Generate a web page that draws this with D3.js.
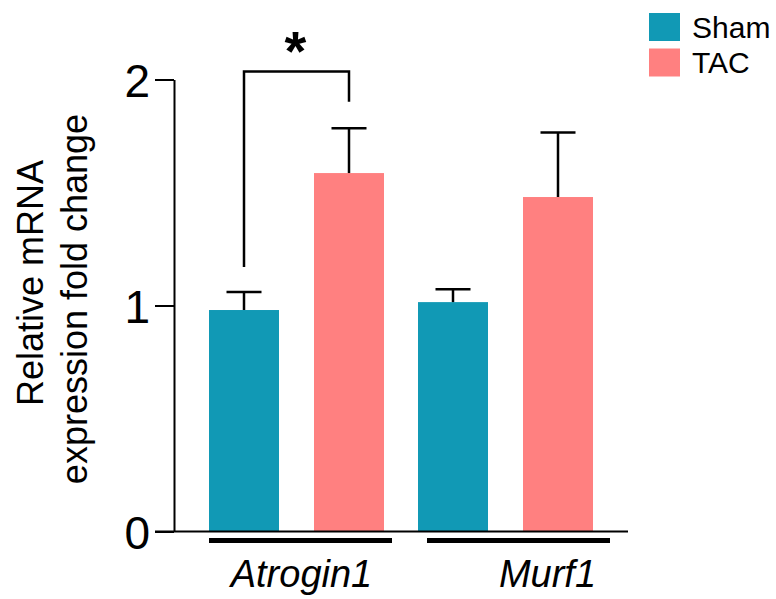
<!DOCTYPE html>
<html><head><meta charset="utf-8">
<script src="https://cdn.jsdelivr.net/npm/d3@7"></script>
<style>body{margin:0;background:#fff}svg{display:block}text{font-family:Arial,"Liberation Sans",sans-serif}</style>
</head><body>
<svg id="c" width="776" height="599"></svg>
<script>
const categories = ["Atrogin1", "Murf1"];
const seriesNames = ["Sham", "TAC"];
const shamMean = [0.98, 1.015];
const shamErr = [0.08, 0.057];
const tacMean = [1.586, 1.48];
const tacErr = [0.198, 0.286];
const yTicks = [0, 1, 2];
const colors = ["#1199b5", "#ff8080"];
const yTitle = ["Relative mRNA", "expression fold change"];

const svg = d3.select("#c");
const y = d3.scaleLinear().domain([0, 2]).range([531.5, 79.5]);
const x0 = d3.scaleBand().domain(categories).range([209, 593]).paddingInner(34/209).paddingOuter(0);
const x1 = d3.scaleBand().domain(seriesNames).range([0, x0.bandwidth()]).paddingInner(1/3).paddingOuter(0);
const color = d3.scaleOrdinal().domain(seriesNames).range(colors);

const data = categories.map((c, i) => ({
  cat: c,
  vals: [
    {s: "Sham", m: shamMean[i], e: shamErr[i]},
    {s: "TAC", m: tacMean[i], e: tacErr[i]}
  ]
}));

// bars
const g = svg.selectAll("g.grp").data(data).join("g").attr("class", "grp")
  .attr("transform", d => `translate(${x0(d.cat)},0)`);
g.selectAll("rect").data(d => d.vals).join("rect")
  .attr("x", d => x1(d.s)).attr("width", x1.bandwidth())
  .attr("y", d => y(d.m)).attr("height", d => y(0) - y(d.m))
  .attr("fill", d => color(d.s));
// error bars
g.selectAll("line.ev").data(d => d.vals).join("line").attr("class", "ev")
  .attr("x1", d => x1(d.s) + x1.bandwidth()/2).attr("x2", d => x1(d.s) + x1.bandwidth()/2)
  .attr("y1", d => y(d.m)).attr("y2", d => y(d.m + d.e))
  .attr("stroke", "#000").attr("stroke-width", 2.5);
g.selectAll("line.ec").data(d => d.vals).join("line").attr("class", "ec")
  .attr("x1", d => x1(d.s) + x1.bandwidth()/2 - 17.5).attr("x2", d => x1(d.s) + x1.bandwidth()/2 + 17.5)
  .attr("y1", d => y(d.m + d.e)).attr("y2", d => y(d.m + d.e))
  .attr("stroke", "#000").attr("stroke-width", 2.5);

// y axis
const yAxis = d3.axisLeft(y).tickValues(yTicks).tickFormat(d3.format("d")).tickSize(19).tickSizeOuter(0).tickPadding(5);
const ya = svg.append("g").attr("transform", "translate(174,0)").call(yAxis);
ya.select(".domain").attr("stroke-width", 2);
ya.selectAll(".tick line").attr("stroke-width", 2);
ya.selectAll(".tick text").attr("font-size", 46).attr("font-family", "Arial, 'Liberation Sans', sans-serif").attr("fill", "#000").attr("dy", "0.36em");

// x axis baseline
svg.append("line").attr("x1", 155).attr("x2", 628).attr("y1", y(0)).attr("y2", y(0))
  .attr("stroke", "#000").attr("stroke-width", 2);

// group underlines and labels
const labelShift = [5, 42];
const lineShift = [4, 13];
svg.selectAll("line.gu").data(categories).join("line").attr("class", "gu")
  .attr("x1", (c, i) => x0(c) + x0.bandwidth()/2 + lineShift[i] - 91.5)
  .attr("x2", (c, i) => x0(c) + x0.bandwidth()/2 + lineShift[i] + 91.5)
  .attr("y1", 540.5).attr("y2", 540.5).attr("stroke", "#000").attr("stroke-width", 5);
svg.selectAll("text.gl").data(categories).join("text").attr("class", "gl")
  .attr("x", (c, i) => x0(c) + x0.bandwidth()/2 + labelShift[i]).attr("y", 587)
  .attr("text-anchor", "middle").attr("font-size", 38).attr("font-style", "italic")
  .text(c => c);

// significance bracket
const xs = x0(categories[0]) + x1("Sham") + x1.bandwidth()/2;
const xt = x0(categories[0]) + x1("TAC") + x1.bandwidth()/2;
const bTop = y(2.035);
svg.append("path")
  .attr("d", `M${xs},${y(1.17)} L${xs},${bTop} L${xt},${bTop} L${xt},${y(1.902)}`)
  .attr("fill", "none").attr("stroke", "#000").attr("stroke-width", 2.5);
svg.append("text").attr("x", (xs + xt)/2 - 1).attr("y", 70).attr("text-anchor", "middle")
  .attr("font-size", 56).attr("font-weight", "bold").attr("font-family", "'DejaVu Sans', sans-serif")
  .text("*");

// y title
const yt = svg.append("g");
yt.append("text").attr("transform", "translate(43,283) rotate(-90)").attr("text-anchor", "middle")
  .attr("font-size", 36).text(yTitle[0]);
yt.append("text").attr("transform", "translate(87,299) rotate(-90)").attr("text-anchor", "middle")
  .attr("font-size", 36).text(yTitle[1]);

// legend
const lg = svg.selectAll("g.lg").data(seriesNames).join("g").attr("class", "lg")
  .attr("transform", (d, i) => `translate(649,${13 + i*35.5})`);
lg.append("rect").attr("width", 31).attr("height", 28).attr("fill", d => color(d));
lg.append("text").attr("x", 43).attr("y", 24.5).attr("font-size", 30).text(d => d);
</script>
</body></html>
